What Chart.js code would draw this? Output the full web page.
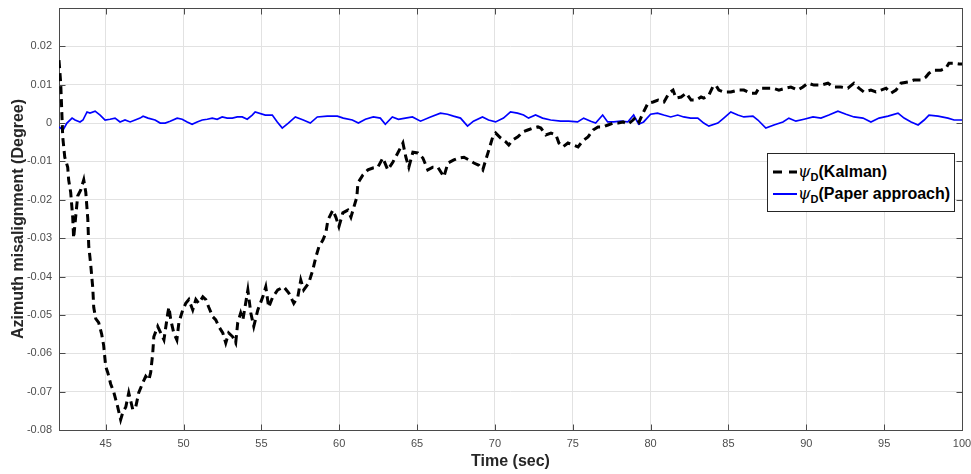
<!DOCTYPE html>
<html>
<head>
<meta charset="utf-8">
<script src="https://cdn.jsdelivr.net/npm/chart.js@4/dist/chart.umd.min.js"></script>
<style>
  html, body { margin: 0; padding: 0; background: #fff; }
  #wrap { position: relative; width: 971px; height: 474px; }
  #legend {
    position: absolute; left: 767px; top: 153px; width: 188px; height: 59px;
    border: 1px solid #262626; background: #fff; box-sizing: border-box;
    font-family: "Liberation Sans", Arial, sans-serif; font-weight: bold; font-size: 16px; color: #000;
  }
  #legend .row { position: absolute; left: 0; height: 20px; line-height: 20px; white-space: nowrap; }
  #legend svg { position: absolute; left: 4px; top: 6px; }
  #legend .txt { position: absolute; left: 30px; top: 0; }
  #legend i { font-family: "DejaVu Serif", serif; font-weight: normal; font-size: 16px; }
  #legend sub { font-size: 11px; vertical-align: -4px; line-height: 0; }
</style>
</head>
<body>
<div id="wrap">
  <canvas id="c" width="971" height="474"></canvas>
  <div id="legend">
    <div class="row" style="top:8px">
      <svg width="26" height="8"><line x1="1" y1="4" x2="25" y2="4" stroke="#000" stroke-width="3" stroke-dasharray="9,7"/></svg>
      <span class="txt"><i>ψ</i><sub>D</sub>(Kalman)</span>
    </div>
    <div class="row" style="top:30px">
      <svg width="26" height="8"><line x1="1" y1="4" x2="25" y2="4" stroke="#0000ff" stroke-width="2"/></svg>
      <span class="txt"><i>ψ</i><sub>D</sub>(Paper approach)</span>
    </div>
  </div>
</div>
<script>
// axis ticks
const xTicks = [45, 50, 55, 60, 65, 70, 75, 80, 85, 90, 95, 100];
const yTicks = [-0.08, -0.07, -0.06, -0.05, -0.04, -0.03, -0.02, -0.01, 0, 0.01, 0.02];

// psi_D (Kalman)
const kalmanTime = [
  42.0, 42.11, 42.17, 42.24, 42.37, 42.56, 42.62, 42.75, 42.88, 42.94, 43.2, 43.39, 43.59, 43.72, 43.85, 43.91,
  44.04, 44.17, 44.23, 44.36, 44.55, 44.74, 44.87, 45.0, 45.13, 45.32, 45.51, 45.77, 45.96, 46.09, 46.29, 46.48,
  46.74, 46.93, 47.12, 47.38, 47.57, 47.77, 47.89, 48.02, 48.09, 48.34, 48.53, 48.74, 48.99, 49.06, 49.18, 49.37,
  49.57, 49.7, 49.95, 50.14, 50.34, 50.59, 50.79, 50.98, 51.24, 51.43, 51.62, 51.88, 52.07, 52.26, 52.52, 52.71,
  52.9, 53.16, 53.35, 53.48, 53.67, 53.81, 54.13, 54.32, 54.51, 54.77, 55.09, 55.28, 55.47, 55.73, 56.05, 56.44,
  56.76, 57.08, 57.34, 57.53, 57.72, 58.04, 58.3, 58.5, 58.69, 58.95, 59.14, 59.27, 59.59, 59.78, 59.98, 60.23,
  60.55, 60.75, 60.94, 61.13, 61.2, 61.52, 61.84, 62.16, 62.48, 62.8, 63.12, 63.44, 63.76, 64.09, 64.28, 64.47,
  64.73, 65.05, 65.37, 65.69, 66.01, 66.33, 66.72, 66.98, 67.36, 67.68, 68.01, 68.33, 68.65, 68.97, 69.22, 69.41,
  69.61, 69.86, 70.05, 70.37, 70.7, 70.89, 71.15, 71.47, 71.79, 72.11, 72.43, 72.76, 72.95, 73.27, 73.6, 73.92,
  74.11, 74.37, 74.69, 75.01, 75.34, 75.53, 75.72, 75.98, 76.3, 76.62, 76.94, 77.26, 77.59, 77.91, 78.23, 78.55,
  78.87, 79.06, 79.26, 79.51, 79.83, 80.16, 80.48, 80.86, 81.18, 81.44, 81.63, 81.96, 82.28, 82.6, 82.92, 83.24,
  83.41, 83.74, 83.99, 84.19, 84.38, 84.7, 85.15, 85.6, 85.99, 86.44, 86.76, 86.95, 87.4, 87.85, 88.24, 88.69,
  89.01, 89.46, 89.78, 90.1, 90.49, 90.94, 91.39, 91.77, 92.22, 92.67, 93.06, 93.38, 93.7, 94.15, 94.47, 94.8,
  95.12, 95.44, 95.76, 96.08, 96.53, 96.91, 97.36, 97.68, 97.88, 98.2, 98.65, 98.97, 99.16, 99.48, 99.81, 100.0
];
const kalmanValue = [
  0.0164, 0.0104, 0.004, -0.0036, -0.0089, -0.0115, -0.0148, -0.018, -0.0245, -0.030, -0.019, -0.0175, -0.0148, -0.018, -0.025, -0.032,
  -0.037, -0.043, -0.048, -0.051, -0.052, -0.055, -0.058, -0.0635, -0.065, -0.068, -0.070, -0.074, -0.0773, -0.0755, -0.074, -0.0703,
  -0.0747, -0.074, -0.0703, -0.0677, -0.066, -0.067, -0.065, -0.060, -0.0557, -0.053, -0.0547, -0.0565, -0.0495, -0.048, -0.0513, -0.0547,
  -0.0565, -0.052, -0.0487, -0.047, -0.046, -0.0487, -0.046, -0.047, -0.0453, -0.046, -0.048, -0.0505, -0.0513, -0.053, -0.0547, -0.0573,
  -0.0547, -0.0557, -0.0573, -0.052, -0.0495, -0.0513, -0.0435, -0.0495, -0.053, -0.0487, -0.0453, -0.0427, -0.048, -0.0453, -0.0435, -0.0427,
  -0.0443, -0.047, -0.0453, -0.0409, -0.0435, -0.0417, -0.0383, -0.0349, -0.0323, -0.0305, -0.0286, -0.0253, -0.0227, -0.0245, -0.027, -0.0234,
  -0.0227, -0.0245, -0.0219, -0.0193, -0.0156, -0.0135, -0.0122, -0.0117, -0.0115, -0.0091, -0.0122, -0.0102, -0.0078, -0.0052, -0.0089, -0.0115,
  -0.0076, -0.0078, -0.0091, -0.0122, -0.0115, -0.0115, -0.014, -0.0104, -0.0096, -0.0091, -0.0089, -0.0096, -0.0104, -0.011, -0.0122, -0.0096,
  -0.007, -0.0036, -0.0026, -0.0039, -0.0049, -0.0057, -0.0044, -0.0036, -0.0023, -0.0018, -0.0013, -0.001, -0.0013, -0.0031, -0.0026, -0.0031,
  -0.0052, -0.0062, -0.0052, -0.0057, -0.0062, -0.0052, -0.0044, -0.0036, -0.0018, -0.001, -0.001, -0.0005, 0, 0, 0.0003, -0.0003,
  0.0008, 0.0016, 0.0003, 0.0026, 0.0052, 0.0055, 0.006, 0.0055, 0.0078, 0.0086, 0.0065, 0.0068, 0.0078, 0.006, 0.006, 0.0068,
  0.0065, 0.0073, 0.0094, 0.0099, 0.0086, 0.0081, 0.0081, 0.0086, 0.0086, 0.0078, 0.0078, 0.0091, 0.0091, 0.0091, 0.0086, 0.0091,
  0.0094, 0.0086, 0.0094, 0.0104, 0.0099, 0.0099, 0.0104, 0.0094, 0.0094, 0.0091, 0.0104, 0.0091, 0.0081, 0.0086, 0.0081, 0.0086,
  0.0091, 0.0078, 0.0086, 0.0104, 0.0107, 0.0112, 0.0112, 0.012, 0.013, 0.0138, 0.0138, 0.0143, 0.0156, 0.0156, 0.0154, 0.0154
];

// psi_D (Paper approach)
const paperTime = [
  42.0, 42.26, 42.51, 42.84, 43.03, 43.35, 43.54, 43.8, 43.99, 44.32, 44.64, 44.96, 45.28, 45.6, 45.92, 46.24,
  46.57, 46.89, 47.21, 47.4, 47.72, 48.17, 48.5, 48.82, 49.14, 49.59, 49.91, 50.23, 50.55, 50.87, 51.2, 51.52,
  51.84, 52.16, 52.48, 52.8, 53.13, 53.45, 53.77, 54.09, 54.41, 54.6, 55.25, 55.7, 56.02, 56.34, 56.73, 57.18,
  57.69, 58.14, 58.59, 59.23, 59.88, 60.26, 60.84, 61.23, 61.68, 62.19, 62.64, 62.96, 63.41, 63.8, 64.25, 64.7,
  65.22, 65.86, 66.5, 66.95, 67.34, 67.79, 68.24, 68.62, 69.2, 69.59, 70.04, 70.55, 71.0, 71.45, 71.84, 72.16,
  72.61, 73.06, 73.58, 74.22, 74.73, 75.31, 75.7, 76.15, 76.47, 76.92, 77.24, 77.63, 78.08, 78.53, 78.91, 79.23,
  79.55, 80.0, 80.44, 80.84, 81.29, 81.74, 82.12, 82.57, 83.03, 83.41, 83.74, 84.32, 84.7, 85.15, 85.6, 85.99,
  86.57, 86.89, 87.4, 87.92, 88.5, 88.88, 89.33, 89.85, 90.43, 90.94, 91.45, 92.03, 92.55, 93.06, 93.64, 94.15,
  94.67, 95.25, 95.89, 96.28, 96.73, 97.18, 97.57, 97.88, 98.46, 99.1, 99.49, 100.0
];
const paperValue = [
  -0.001, -0.0018, 0, 0.0013, 0.0008, 0.0003, 0.0008, 0.0029, 0.0026, 0.0031, 0.0021, 0.0008, 0.001, 0.0013, 0.0003, 0.0008,
  0.0003, 0.0008, 0.0013, 0.0018, 0.0013, 0.0008, 0, 0, 0.0005, 0.0013, 0.001, 0.0003, -0.0003, 0.0003, 0.0008, 0.001,
  0.0013, 0.001, 0.0016, 0.0013, 0.0013, 0.0016, 0.0016, 0.001, 0.0021, 0.0029, 0.0021, 0.0021, 0.0003, -0.0013, 0, 0.0016,
  0.0008, 0, 0.0016, 0.0018, 0.0018, 0.0013, 0.0008, 0, 0.001, 0.0016, 0.0013, -0.0003, 0.0016, 0.001, 0.0013, 0.0016,
  0.0005, 0.0016, 0.0026, 0.0023, 0.0018, 0.0013, -0.0008, 0.0005, 0.0016, 0.0008, 0.0003, 0.0013, 0.0029, 0.0026, 0.0021, 0.0013,
  0.0021, 0.0013, 0.0008, 0.0005, 0.0005, 0.0003, 0.0013, 0.0005, 0, 0.0021, 0.0003, 0.0003, 0.0005, 0.0003, 0.0021, -0.0003,
  0.0003, 0.0023, 0.0026, 0.0021, 0.0016, 0.0021, 0.0016, 0.0013, 0.0013, 0, -0.0008, 0, 0.0013, 0.0029, 0.0021, 0.0016,
  0.0018, 0.0008, -0.0013, -0.0005, 0.0003, 0.0013, 0.0005, 0.001, 0.0016, 0.0013, 0.0021, 0.0031, 0.0023, 0.0016, 0.0013, 0.0003,
  0.0013, 0.0018, 0.0026, 0.0013, 0.0003, -0.0005, 0.0008, 0.0021, 0.0018, 0.0013, 0.0008, 0.0008
];

const toPoints = (xs, ys) => xs.map((x, i) => ({ x: x, y: ys[i] }));

// border box + inward ticks like a matlab axes
const axesBox = {
  id: 'axesBox',
  beforeDatasetsDraw(chart) {
    const { ctx, chartArea: a, scales } = chart;
    const L = Math.round(a.left) + 0.5, R = Math.round(a.right) + 0.5;
    const T = Math.round(a.top) + 0.5, B = Math.round(a.bottom) + 0.5;
    ctx.save();
    ctx.strokeStyle = '#4a4a4a';
    ctx.lineWidth = 1;
    ctx.strokeRect(L, T, R - L, B - T);
    ctx.beginPath();
    xTicks.forEach(v => {
      const px = Math.round(scales.x.getPixelForValue(v)) + 0.5;
      ctx.moveTo(px, B); ctx.lineTo(px, B - 6);
      ctx.moveTo(px, T); ctx.lineTo(px, T + 6);
    });
    yTicks.forEach(v => {
      const py = Math.round(scales.y.getPixelForValue(v)) + 0.5;
      ctx.moveTo(L, py); ctx.lineTo(L + 6, py);
      ctx.moveTo(R, py); ctx.lineTo(R - 6, py);
    });
    ctx.stroke();
    ctx.restore();
  }
};

const tickFont = { family: '"Liberation Sans", Arial, sans-serif', size: 11 };
const titleFont = { family: '"Liberation Sans", Arial, sans-serif', size: 16, weight: 'bold' };

new Chart(document.getElementById('c'), {
  type: 'line',
  data: {
    datasets: [
      {
        label: 'Kalman',
        data: toPoints(kalmanTime, kalmanValue),
        borderColor: '#000000',
        borderWidth: 3,
        borderDash: [8, 5],
        pointRadius: 0,
        tension: 0
      },
      {
        label: 'Paper approach',
        data: toPoints(paperTime, paperValue),
        borderColor: '#0000ff',
        borderWidth: 1.7,
        pointRadius: 0,
        tension: 0
      }
    ]
  },
  options: {
    responsive: false,
    animation: false,
    events: [],
    layout: { padding: { top: 8, right: 9, left: 0, bottom: 0 } },
    plugins: { legend: { display: false }, tooltip: { enabled: false } },
    scales: {
      x: {
        type: 'linear', min: 42, max: 100,
        afterBuildTicks: s => { s.ticks = xTicks.map(v => ({ value: v })); },
        afterFit: s => { s.height = 44; s.paddingLeft = 0; s.paddingRight = 0; },
        grid: { color: '#e2e2e2', drawTicks: false },
        border: { display: false },
        ticks: { color: '#4d4d4d', font: tickFont, padding: 7, maxRotation: 0 },
        title: { display: true, text: 'Time (sec)', color: '#262626', font: titleFont, padding: { top: 0, bottom: 3 } }
      },
      y: {
        type: 'linear', min: -0.08, max: 0.03,
        afterBuildTicks: s => { s.ticks = yTicks.map(v => ({ value: v })); },
        afterFit: s => { s.width = 59; s.paddingTop = 0; s.paddingBottom = 0; },
        grid: { color: '#e2e2e2', drawTicks: false },
        border: { display: false },
        ticks: {
          color: '#4d4d4d', font: tickFont, padding: 7,
          callback: v => (Math.abs(v) < 1e-9 ? '0' : String(+v.toFixed(2)))
        },
        title: { display: true, text: 'Azimuth misalignment (Degree)', color: '#262626', font: titleFont, padding: { top: 9, bottom: 0 } }
      }
    }
  },
  plugins: [axesBox]
});
</script>
</body>
</html>
